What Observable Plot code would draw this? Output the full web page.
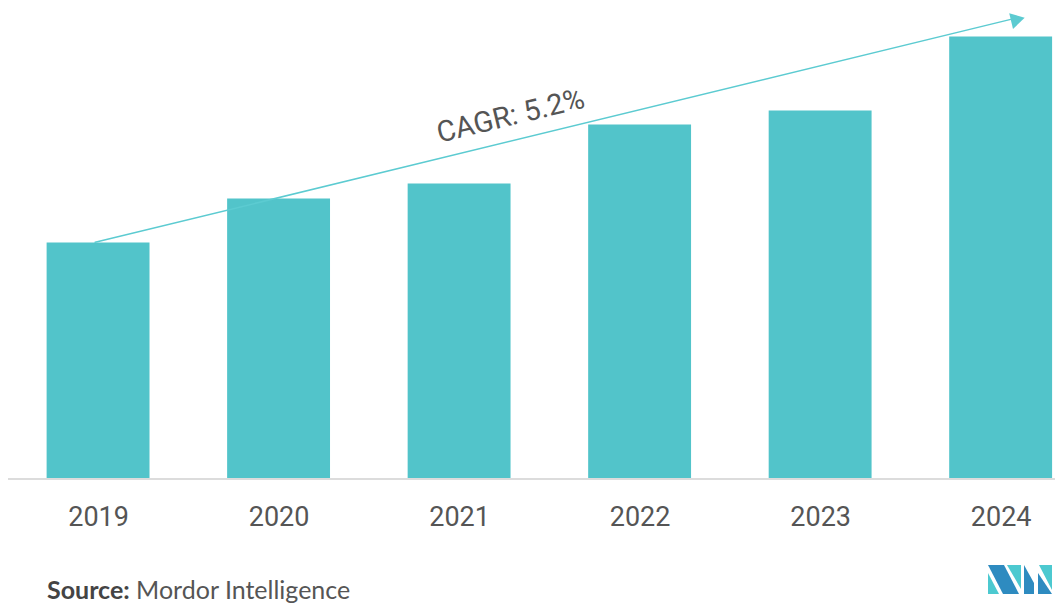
<!DOCTYPE html>
<html>
<head>
<meta charset="utf-8">
<script src="https://cdn.jsdelivr.net/npm/d3@7"></script>
<script src="https://cdn.jsdelivr.net/npm/@observablehq/plot@0.6"></script>
<style>
  html, body { margin: 0; padding: 0; background: #fff; }
  #wrap { position: relative; width: 1055px; height: 603px; overflow: hidden; }
  #source { position: absolute; left: 47px; top: 574px; font-family: Lato, "Open Sans", sans-serif; font-size: 25px; color: #555; white-space: nowrap; }
  #source b { color: #444; }
  #logo { position: absolute; left: 986px; top: 563px; }
</style>
</head>
<body>
<div id="wrap">
  <div id="chart"></div>
  <div id="source"><b>Source:</b> Mordor Intelligence</div>
  <svg id="logo" width="68" height="34" viewBox="0 0 68 34">
    <polygon points="2,10 2,31 13,31" fill="#4cc9d0"/>
    <polygon points="2,2 18,2 33,31 17,31" fill="#2e8bc0"/>
    <polygon points="21,2 35,2 35,26" fill="#4cc9d0"/>
    <polygon points="38,2 38,31 48,31 48,20" fill="#2e8bc0"/>
    <polygon points="40,2 53,2 66,27 66,2" fill="#4cc9d0"/>
    <polygon points="52,10 66,31 52,31" fill="#2e8bc0"/>
  </svg>
</div>
<script>
const years = ["2019", "2020", "2021", "2022", "2023", "2024"];
const values = [23.6, 28.0, 29.5, 35.4, 36.8, 44.2];
const cagrLabel = "CAGR: 5.2%";
const arrowStart = {year: "2019", value: 23.75};
const arrowEnd = {year: "2024", value: 45.73};
const arrowTip = {year: "2024", value: 46.25};

const data = years.map((y, i) => ({year: y, value: values[i]}));

const chart = Plot.plot({
  width: 1055,
  height: 540,
  marginLeft: 8,
  marginRight: 0,
  marginTop: 0,
  marginBottom: 61.5,
  style: {fontFamily: "Roboto, sans-serif", background: "#fff"},
  x: {domain: years, paddingInner: 0.43, paddingOuter: 0.115, align: 0.93, round: false, label: null},
  y: {domain: [0, 47.85], axis: null},
  marks: [
    Plot.barY(data, {x: "year", y: "value", fill: "#52c4ca"}),
    Plot.ruleY([0], {stroke: "#dcdcdc", strokeWidth: 2}),
    Plot.axisX({tickSize: 0, tickPadding: 28, fontSize: 27, fill: "#555", label: null}),
    Plot.arrow([0], {
      x1: () => arrowStart.year, y1: () => arrowStart.value,
      x2: () => arrowEnd.year, y2: () => arrowEnd.value,
      bend: 0, stroke: "#5ccbd1", strokeWidth: 1.5, headLength: 0,
      insetStart: -3.5, insetEnd: -12
    }),
    Plot.dot([0], {
      x: () => arrowTip.year, y: () => arrowTip.value, dx: 14.5, dy: 3.5,
      symbol: "triangle", r: 6, fill: "#5ccbd1", stroke: null, rotate: 76.4
    }),
    Plot.text([cagrLabel], {
      x: () => "2021", y: () => 36.3, dx: 51, text: d => d,
      rotate: -13.6, fontSize: 29, fill: "#555", textAnchor: "middle"
    })
  ]
});
document.getElementById("chart").appendChild(chart);
</script>
</body>
</html>
